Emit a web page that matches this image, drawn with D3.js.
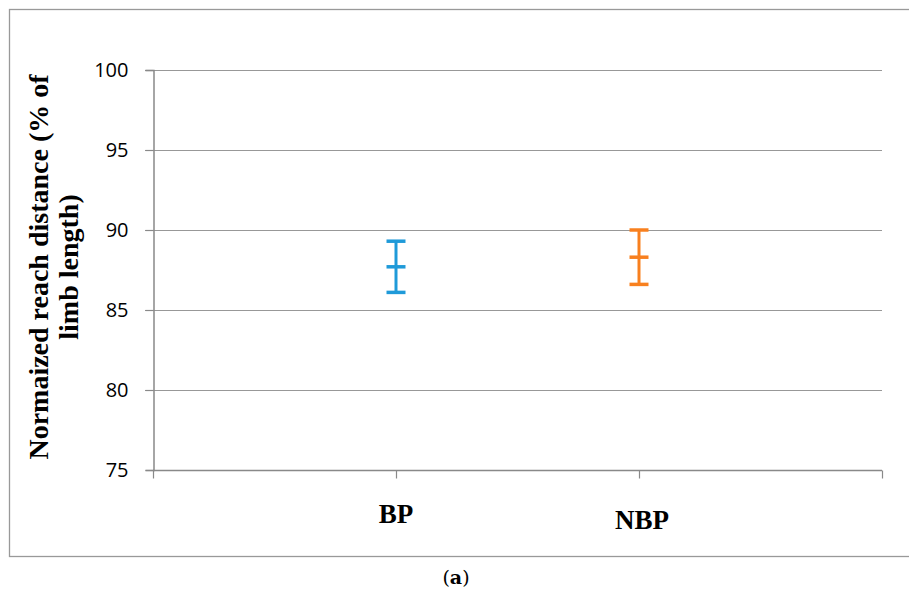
<!DOCTYPE html>
<html><head><meta charset="utf-8">
<script src="https://cdn.jsdelivr.net/npm/d3@7"></script>
<style>body{margin:0;background:#fff}svg{display:block}</style>
</head><body>
<script>
const categories = ["", "BP", "NBP", ""];
const groups = ["BP", "NBP"];
const means = [87.7, 88.3];
const upper = [89.3, 90.0];
const lower = [86.1, 86.6];
const colors = ["#1f9ad9", "#f8801f"];
const yTicks = [75, 80, 85, 90, 95, 100];

const W = 909, H = 591;
const svg = d3.select("body").append("svg").attr("width", W).attr("height", H);

// outer frame
svg.append("rect").attr("x", 9.5).attr("y", 9.5).attr("width", 920).attr("height", 547)
  .attr("fill", "none").attr("stroke", "#999").attr("stroke-width", 1.3);

const x = d3.scalePoint().domain(d3.range(categories.length)).range([153, 882]);
const y = d3.scaleLinear().domain([75, 100]).range([470, 70]);

// gridlines
svg.append("g").selectAll("line").data(yTicks.filter(t => t > 75)).join("line")
  .attr("x1", 145).attr("x2", 882)
  .attr("y1", d => Math.round(y(d)) + 0.5).attr("y2", d => Math.round(y(d)) + 0.5)
  .attr("stroke", "#989898").attr("stroke-width", 1.2);

// y axis
const yAxis = d3.axisLeft(y).tickValues(yTicks).tickSize(8).tickPadding(17).tickFormat(d3.format("d"));
const gy = svg.append("g").attr("transform", "translate(153.5,0)").call(yAxis);
gy.select(".domain").attr("stroke", "#898989").attr("stroke-width", 1.5);
gy.selectAll(".tick line").attr("stroke", "#898989").attr("stroke-width", 1.2);
gy.selectAll(".tick text").attr("font-family", "'Open Sans', 'Liberation Sans', sans-serif")
  .attr("font-size", 20).attr("fill", "#000");

// x axis
const xAxis = d3.axisBottom(x).tickSize(8).tickFormat("");
const gx = svg.append("g").attr("transform", "translate(0,470.5)").call(xAxis);
gx.select(".domain").attr("stroke", "#898989").attr("stroke-width", 1.5).attr("d", "M153,0H882");
gx.selectAll(".tick line").attr("stroke", "#898989").attr("stroke-width", 1.2);

// error bars
const eb = svg.append("g").selectAll("g").data(groups).join("g");
const cx = (d, i) => x(i + 1);
eb.append("line").attr("x1", cx).attr("x2", cx)
  .attr("y1", (d, i) => y(upper[i])).attr("y2", (d, i) => y(lower[i]))
  .attr("stroke", (d, i) => colors[i]).attr("stroke-width", 3);
[upper, means, lower].forEach(arr => {
  eb.append("line").attr("x1", (d, i) => cx(d, i) - 9.5).attr("x2", (d, i) => cx(d, i) + 9.5)
    .attr("y1", (d, i) => y(arr[i])).attr("y2", (d, i) => y(arr[i]))
    .attr("stroke", (d, i) => colors[i]).attr("stroke-width", 3.5);
});

// category labels
const labelY = [523, 529];
svg.append("g").selectAll("text").data(groups).join("text")
  .attr("x", (d, i) => x(i + 1) + (i === 1 ? 3 : 0))
  .attr("y", (d, i) => labelY[i])
  .attr("text-anchor", "middle")
  .attr("font-family", "'Liberation Serif', 'Times New Roman', serif")
  .attr("font-weight", "bold").attr("font-size", 27).attr("fill", "#000")
  .text(d => d);

// y label
const yl = svg.append("text").attr("transform", "translate(48,267) rotate(-90)")
  .attr("text-anchor", "middle")
  .attr("font-family", "'Liberation Serif', 'Times New Roman', serif")
  .attr("font-weight", "bold").attr("font-size", 28).attr("fill", "#000");
yl.append("tspan").attr("x", 0).attr("dy", 0).text("Normaized reach distance (% of");
yl.append("tspan").attr("x", 0).attr("dy", 30).text("limb length)");

// caption
const cap = svg.append("text").attr("x", 456).attr("y", 584).attr("text-anchor", "middle")
  .attr("font-family", "'DejaVu Serif', 'Liberation Serif', serif").attr("font-size", 19).attr("fill", "#000");
cap.append("tspan").text("(");
cap.append("tspan").attr("font-weight", "bold").text("a");
cap.append("tspan").text(")");
</script>
</body></html>
